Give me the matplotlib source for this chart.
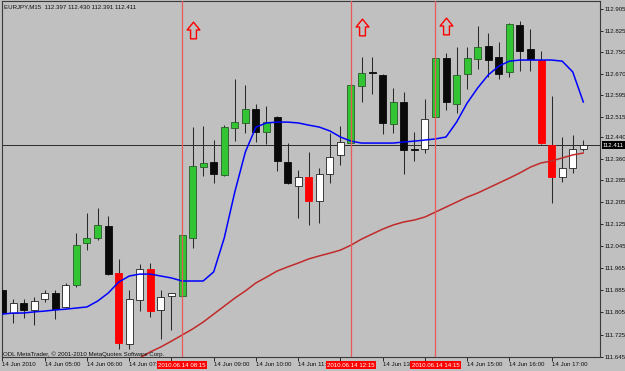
import numpy as np
import pandas as pd
import matplotlib
matplotlib.use("Agg")
import matplotlib.pyplot as plt
from matplotlib.path import Path

# ---------------- data ----------------
symbol = "EURJPY,M15"
start_time = "2010-06-14 04:00"

opens = [111.886, 111.803, 111.839, 111.814, 111.854, 111.875, 111.825, 111.904, 112.057, 112.075,
         112.118, 111.948, 111.691, 111.850, 111.962, 111.814, 111.865, 111.865, 112.075, 112.332,
         112.350, 112.303, 112.474, 112.492, 112.542, 112.459, 112.513, 112.350, 112.263, 112.296,
         112.209, 112.307, 112.376, 112.419, 112.626, 112.677, 112.666, 112.488, 112.568, 112.396,
         112.397, 112.513, 112.727, 112.561, 112.669, 112.724, 112.771, 112.731, 112.677, 112.847,
         112.760, 112.720, 112.412, 112.296, 112.329, 112.397]
highs = [111.901, 111.854, 111.854, 111.861, 111.886, 111.886, 111.912, 112.093, 112.165, 112.184,
         112.155, 111.999, 111.886, 111.981, 111.984, 111.886, 111.877, 112.090, 112.477, 112.481,
         112.430, 112.485, 112.651, 112.630, 112.561, 112.553, 112.517, 112.419, 112.321, 112.387,
         112.329, 112.455, 112.481, 112.634, 112.731, 112.731, 112.670, 112.619, 112.604, 112.459,
         112.579, 112.730, 112.745, 112.767, 112.767, 112.843, 112.818, 112.785, 112.853, 112.861,
         112.832, 112.753, 112.590, 112.441, 112.448, 112.430]
lows = [111.792, 111.767, 111.785, 111.760, 111.843, 111.781, 111.821, 111.897, 112.031, 112.068,
        111.940, 111.673, 111.673, 111.810, 111.788, 111.709, 111.741, 111.860, 112.039, 112.300,
        112.274, 112.298, 112.426, 112.455, 112.423, 112.416, 112.318, 112.271, 112.147, 112.122,
        112.129, 112.274, 112.339, 112.416, 112.568, 112.597, 112.452, 112.455, 112.307, 112.354,
        112.383, 112.510, 112.539, 112.528, 112.615, 112.687, 112.658, 112.651, 112.658, 112.680,
        112.680, 112.417, 112.202, 112.278, 112.311, 112.391]
closes = [111.803, 111.839, 111.814, 111.846, 111.875, 111.817, 111.904, 112.049, 112.075, 112.122,
          111.946, 111.694, 111.854, 111.962, 111.810, 111.861, 111.875, 112.086, 112.336, 112.347,
          112.307, 112.477, 112.495, 112.542, 112.459, 112.495, 112.354, 112.274, 112.296, 112.209,
          112.307, 112.368, 112.423, 112.630, 112.673, 112.673, 112.492, 112.568, 112.394, 112.394,
          112.506, 112.727, 112.568, 112.666, 112.727, 112.767, 112.720, 112.669, 112.851, 112.753,
          112.724, 112.419, 112.296, 112.329, 112.397, 112.411]
highlight = [0, 0, 0, 0, 0, 0, 0, 1, 1, 1,
             0, 1, 0, 0, 1, 0, 0, 1, 1, 1,
             0, 1, 1, 1, 0, 1, 0, 0, 0, 1,
             0, 0, 0, 1, 1, 0, 0, 1, 0, 0,
             0, 1, 0, 1, 1, 1, 0, 0, 1, 0,
             0, 1, 1, 0, 0, 0]

ma_fast = [111.799, 111.803, 111.803, 111.807, 111.810, 111.814, 111.817, 111.821, 111.825, 111.846,
           111.875, 111.915, 111.937, 111.944, 111.944, 111.937, 111.930, 111.919, 111.919, 111.919,
           111.952, 112.075, 112.242, 112.387, 112.477, 112.492, 112.495, 112.495, 112.492, 112.484,
           112.477, 112.463, 112.441, 112.426, 112.419, 112.419, 112.419, 112.419, 112.423, 112.426,
           112.430, 112.434, 112.441, 112.495, 112.564, 112.619, 112.666, 112.698, 112.716, 112.720,
           112.720, 112.720, 112.720, 112.716, 112.677, 112.568]
ma_slow = [np.nan] * 12 + [
           111.618, 111.640, 111.662, 111.680, 111.701, 111.723, 111.745, 111.770,
           111.799, 111.828, 111.857, 111.883, 111.912, 111.933, 111.955, 111.970, 111.984, 111.999,
           112.010, 112.020, 112.031, 112.049, 112.071, 112.089, 112.107, 112.122, 112.133, 112.140,
           112.151, 112.169, 112.187, 112.205, 112.223, 112.238, 112.256, 112.274, 112.292, 112.311,
           112.332, 112.347, 112.354, 112.365, 112.376, 112.383]

signal_times = ["08:15", "12:15", "14:15"]
arrow_times = ["08:30", "12:30", "14:30"]
arrow_prices = [112.829, 112.838, 112.845]

ytick_values = [112.905, 112.825, 112.750, 112.670, 112.595, 112.515, 112.440, 112.360, 112.285,
                112.205, 112.125, 112.045, 111.965, 111.885, 111.805, 111.725, 111.645]
copyright_text = "ODL MetaTrader, \u00a9 2001-2010 MetaQuotes Software Corp."

# ---------------- figure ----------------
plt.rcParams['font.family'] = ['Liberation Sans', 'DejaVu Sans']
BG = '#c0c0c0'
FS = 4.4
PX_PER_BAR = 10.56

W, H = 625, 371
fig = plt.figure(figsize=(W / 100, H / 100), dpi=100, facecolor=BG)
ax = fig.add_axes([2 / W, 14 / H, 598 / W, 356 / H])
ax.set_facecolor(BG)

n = len(closes)
times = pd.date_range(start_time, periods=n, freq="15min")
hhmm = [t.strftime("%H:%M") for t in times]
x = np.arange(n)
o = np.array(opens); c = np.array(closes); hi = np.array(highs); lo = np.array(lows)
hl = np.array(highlight).astype(bool)
bull = c >= o

# wicks
ax.vlines(x, lo, hi, color='#2a2a2a', lw=0.75, zorder=2)

# bodies
face = []
edge = []
for b, h in zip(bull, hl):
    if b and h:
        face.append('#33c433'); edge.append('#2a5a2a')
    elif b:
        face.append('white'); edge.append('#202020')
    elif h:
        face.append('#ff0000'); edge.append('#ff0000')
    else:
        face.append('#0a0a0a'); edge.append('#0a0a0a')
bottom = np.minimum(o, c)
height = np.maximum(np.abs(c - o), 0.003)
ax.bar(x, height, bottom=bottom, width=0.66, color=face, edgecolor=edge, linewidth=0.6, zorder=3)

# moving averages
ax.plot(x, ma_fast, color='#0000ff', lw=1.1, zorder=4, solid_joinstyle='round')
ax.plot(x, ma_slow, color='#c02a2a', lw=1.1, zorder=4, solid_joinstyle='round')

# current price line
ax.axhline(closes[-1], color='#2a2a2a', lw=0.7, zorder=1.5)

# signal vertical lines
sig_idx = [hhmm.index(s) for s in signal_times]
for i in sig_idx:
    ax.axvline(i, color='#e85a5a', lw=0.9, zorder=5)

# arrows
arrow_verts = [(0, 1), (0.765, 0.06), (0.35, 0.06), (0.35, -1), (-0.35, -1), (-0.35, 0.06),
               (-0.765, 0.06), (0, 1)]
arrow_path = Path(arrow_verts, [Path.MOVETO] + [Path.LINETO] * 6 + [Path.CLOSEPOLY])
arr_idx = [hhmm.index(s) for s in arrow_times]
ax.plot(arr_idx, arrow_prices, linestyle='none', marker=arrow_path, markersize=12.0,
        markerfacecolor='none', markeredgecolor='#ff0000', markeredgewidth=1.0, zorder=6)

# limits
ax.set_xlim(-0.047, -0.047 + 598 / PX_PER_BAR)
ax.set_ylim(111.6435, 112.934)

# y axis on right
ax.yaxis.tick_right()
ax.set_yticks(ytick_values)
ax.set_yticklabels([f"{v:.3f}" for v in ytick_values])
ax.tick_params(axis='y', direction='out', length=2.2, width=0.6, pad=1.2, labelsize=FS,
               colors='#101010')

# x axis: hourly labels; parts covered by the red signal date tags are not shown
box_half = 25 / PX_PER_BAR     # half width of a red date tag, in bars
label_w = 33 / PX_PER_BAR      # width of an hourly label, in bars
hour_idx = [i for i, t in enumerate(times) if t.minute == 0]
xlabels = []
for i in hour_idx:
    t = times[i]
    txt = t.strftime("%d %b %Y") if i == 0 else t.strftime("%d %b %H:%M")
    for s in sig_idx:
        left = s - box_half
        if left - 0.2 <= i <= s + box_half:
            txt = ""
        elif i < left < i + label_w:
            txt = txt[:10]
    xlabels.append(txt)
ax.set_xticks(hour_idx)
ax.set_xticklabels(xlabels)
ax.tick_params(axis='x', direction='out', length=2.6, width=0.6, pad=1.0, labelsize=FS,
               colors='#101010')
for lbl in ax.get_xticklabels():
    lbl.set_ha('left')

for s in ax.spines.values():
    s.set_color('#3a3a3a')
    s.set_linewidth(0.8)

# red date labels for signal lines
for i in sig_idx:
    ax.annotate(times[i].strftime("%Y.%m.%d %H:%M"), xy=(i, 0), xycoords=('data', 'axes fraction'),
                xytext=(0, -5.8), textcoords='offset points', ha='center', va='center',
                fontsize=FS, color='white', annotation_clip=False, zorder=10,
                bbox=dict(boxstyle='square,pad=0.25', fc='#ff0000', ec='none'))

# current price tag
ax.annotate(f"{closes[-1]:.3f}", xy=(1, closes[-1]), xycoords=('axes fraction', 'data'),
            xytext=(2.2, 0), textcoords='offset points', ha='left', va='center',
            fontsize=FS, color='white', annotation_clip=False, zorder=10,
            bbox=dict(boxstyle='square,pad=0.25', fc='#000000', ec='none'))

# header / footer texts
header = f"{symbol}  {opens[-1]:.3f} {highs[-1]:.3f} {lows[-1]:.3f} {closes[-1]:.3f}"
fig.text(4 / W, 1 - 7 / H, header, fontsize=FS, color='#101010', va='center', ha='left')
fig.text(3 / W, 1 - 354 / H, copyright_text, fontsize=FS, color='#101010', va='center', ha='left')

fig.savefig('out.png', dpi=100, facecolor=BG)
